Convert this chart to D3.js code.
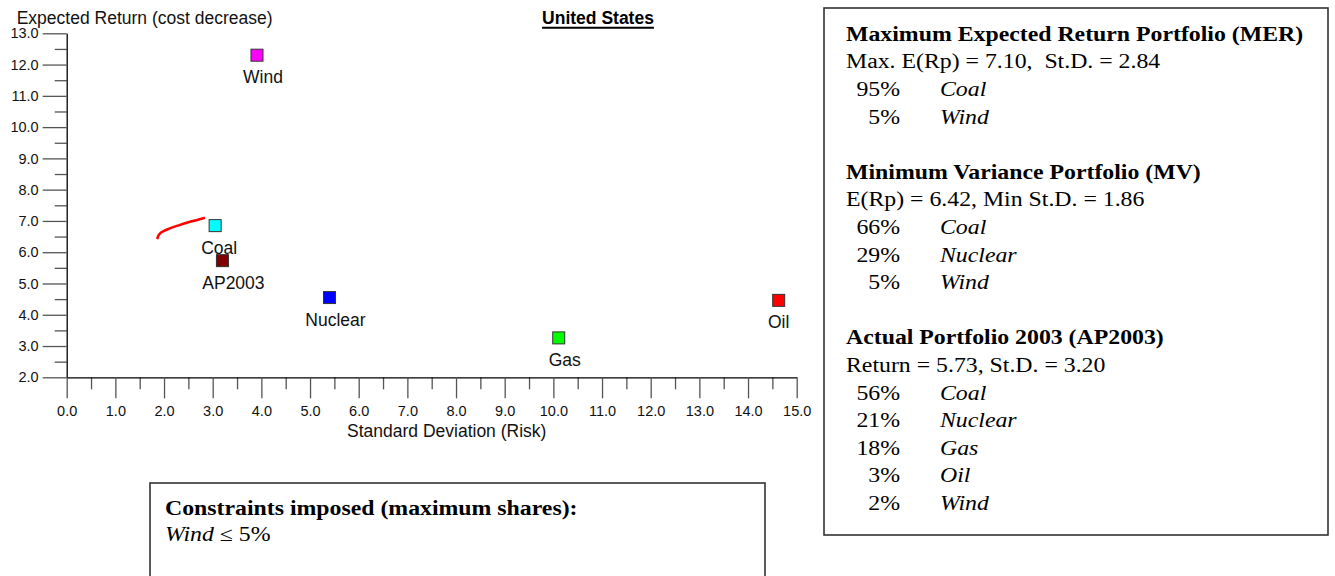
<!DOCTYPE html>
<html>
<head>
<meta charset="utf-8">
<script src="https://cdn.jsdelivr.net/npm/d3@7"></script>
<style>
  html, body { margin: 0; padding: 0; background: #fff; }
  svg { display: block; }
  text { white-space: pre; }
</style>
</head>
<body>
<svg id="chart" width="1335" height="576"></svg>
<script>
// ---------- data ----------
const categories = ["Wind", "Coal", "AP2003", "Nuclear", "Gas", "Oil"];
const stdDev     = [3.91, 3.05, 3.20, 5.40, 10.11, 14.63];
const expReturn  = [12.30, 6.85, 5.73, 4.55, 3.26, 4.46];

const frontierSD = [1.86, 1.88, 1.92, 2.00, 2.12, 2.30, 2.50, 2.70, 2.84];
const frontierER = [6.42, 6.52, 6.60, 6.68, 6.76, 6.86, 6.96, 7.04, 7.10];

const xTickValues = [0, 1, 2, 3, 4, 5, 6, 7, 8, 9, 10, 11, 12, 13, 14, 15];
const yTickValues = [2, 3, 4, 5, 6, 7, 8, 9, 10, 11, 12, 13];

const chartTitle = "United States";
const xTitle = "Standard Deviation (Risk)";
const yTitle = "Expected Return (cost decrease)";

const merTitle = "Maximum Expected Return Portfolio (MER)";
const merStats = "Max. E(Rp) = 7.10,  St.D. = 2.84";
const merShares = ["95%", "5%"];
const merTechs  = ["Coal", "Wind"];

const mvTitle = "Minimum Variance Portfolio (MV)";
const mvStats = "E(Rp) = 6.42, Min St.D. = 1.86";
const mvShares = ["66%", "29%", "5%"];
const mvTechs  = ["Coal", "Nuclear", "Wind"];

const apTitle = "Actual Portfolio 2003 (AP2003)";
const apStats = "Return = 5.73, St.D. = 3.20";
const apShares = ["56%", "21%", "18%", "3%", "2%"];
const apTechs  = ["Coal", "Nuclear", "Gas", "Oil", "Wind"];

const constraintTitle = "Constraints imposed (maximum shares):";
const constraintTech = "Wind";
const constraintRule = " \u2264 5%";

// ---------- styles ----------
const pointColors = {Wind: "#ff00ff", Coal: "#00ffff", AP2003: "#800000",
                     Nuclear: "#0000ff", Gas: "#00ff00", Oil: "#ff0000"};
const labelNudge = {Wind: 6, Coal: 4, AP2003: 11, Nuclear: 6, Gas: 6, Oil: 0};
const sans = "'Liberation Sans', Arial, sans-serif";
const serif = "'Liberation Serif', 'Times New Roman', serif";
const serifStretch = 1.19;

const svg = d3.select("#chart");

const x = d3.scaleLinear().domain([0, 15]).range([66.7, 796.7]);
const y = d3.scaleLinear().domain([2, 13]).range([377.3, 33.3]);

// ---------- axes ----------
const xMinor = d3.range(0.5, 15, 1);
const yMinor = d3.range(2.5, 13, 1);

const gxMinor = svg.append("g").attr("transform", `translate(0,${y(2)})`)
  .call(d3.axisBottom(x).tickValues(xMinor).tickSize(12).tickFormat(""));
gxMinor.select(".domain").remove();
const gx = svg.append("g").attr("transform", `translate(0,${y(2)})`)
  .call(d3.axisBottom(x).tickValues(xTickValues).tickSizeInner(21).tickSizeOuter(0)
        .tickPadding(7).tickFormat(d3.format(".1f")));

const gyMinor = svg.append("g").attr("transform", `translate(${x(0)},0)`)
  .call(d3.axisLeft(y).tickValues(yMinor).tickSize(12).tickFormat(""));
gyMinor.select(".domain").remove();
const gy = svg.append("g").attr("transform", `translate(${x(0)},0)`)
  .call(d3.axisLeft(y).tickValues(yTickValues).tickSizeInner(24).tickSizeOuter(0)
        .tickPadding(4).tickFormat(d3.format(".1f")));

[gx, gy, gxMinor, gyMinor].forEach(g => {
  g.selectAll(".tick line").attr("stroke", "#555").attr("stroke-width", 1.3);
  g.selectAll(".tick text").attr("fill", "#111").style("font-family", sans).style("font-size", "14.5px");
  g.select(".domain").attr("stroke", "#000").attr("stroke-width", 1.3);
});

// axis titles
svg.append("text").attr("x", 16.7).attr("y", 24)
  .style("font-family", sans).style("font-size", "17.5px").attr("fill", "#111")
  .text(yTitle);
svg.append("text").attr("x", 347).attr("y", 436.5)
  .style("font-family", sans).style("font-size", "17.5px").attr("fill", "#111")
  .text(xTitle);

// chart title underlined
const tt = svg.append("text").attr("x", 598).attr("y", 24).attr("text-anchor", "middle")
  .style("font-family", sans).style("font-size", "17.5px").style("font-weight", "bold")
  .attr("fill", "#000").text(chartTitle);
const tw = tt.node().getComputedTextLength();
svg.append("line").attr("x1", 598 - tw / 2).attr("x2", 598 + tw / 2)
  .attr("y1", 27.8).attr("y2", 27.8).attr("stroke", "#000").attr("stroke-width", 2);

// ---------- frontier ----------
const frontier = frontierSD.map((s, i) => [s, frontierER[i]]);
svg.append("path").datum(frontier)
  .attr("d", d3.line().x(d => x(d[0])).y(d => y(d[1])).curve(d3.curveMonotoneX))
  .attr("fill", "none").attr("stroke", "#ff0000").attr("stroke-width", 2.5);

// ---------- points ----------
const pts = categories.map((c, i) => ({c, sd: stdDev[i], er: expReturn[i]}));
const size = 12;
svg.append("g").selectAll("rect").data(pts).join("rect")
  .attr("x", d => x(d.sd) - size / 2).attr("y", d => y(d.er) - size / 2)
  .attr("width", size).attr("height", size)
  .attr("fill", d => pointColors[d.c]).attr("stroke", "#333").attr("stroke-width", 1);
svg.append("g").selectAll("text").data(pts).join("text")
  .attr("x", d => x(d.sd) + labelNudge[d.c]).attr("y", d => y(d.er) + 28)
  .attr("text-anchor", "middle")
  .style("font-family", sans).style("font-size", "17.5px").attr("fill", "#111")
  .text(d => d.c);

// ---------- serif text helper ----------
function serifText(parent, px, py) {
  return parent.append("text")
    .attr("transform", `translate(${px},${py}) scale(${serifStretch},1)`)
    .style("font-family", serif).style("font-size", "20px").attr("fill", "#000");
}

// ---------- right info box ----------
svg.append("rect").attr("x", 824).attr("y", 8).attr("width", 504).attr("height", 527)
  .attr("fill", "none").attr("stroke", "#333").attr("stroke-width", 1.6);

const box = svg.append("g");
const lh = 27.6, firstBase = 40.7, tx = 846, pctRight = 900, techX = 940;
let lineNo = 0;
function section(title, stats, shares, techs) {
  serifText(box, tx, firstBase + lh * lineNo++).style("font-weight", "bold").text(title);
  serifText(box, tx, firstBase + lh * lineNo++).text(stats);
  shares.forEach((p, i) => {
    const yy = firstBase + lh * lineNo++;
    serifText(box, pctRight, yy).attr("text-anchor", "end").text(p);
    serifText(box, techX, yy).style("font-style", "italic").text(techs[i]);
  });
  lineNo++;
}
section(merTitle, merStats, merShares, merTechs);
section(mvTitle, mvStats, mvShares, mvTechs);
section(apTitle, apStats, apShares, apTechs);

// ---------- constraints box ----------
svg.append("rect").attr("x", 150).attr("y", 483).attr("width", 615).attr("height", 130)
  .attr("fill", "none").attr("stroke", "#333").attr("stroke-width", 1.6);
serifText(svg, 165, 515).style("font-weight", "bold").text(constraintTitle);
const ct = serifText(svg, 165, 541);
ct.append("tspan").style("font-style", "italic").text(constraintTech);
ct.append("tspan").text(constraintRule);
</script>
</body>
</html>
